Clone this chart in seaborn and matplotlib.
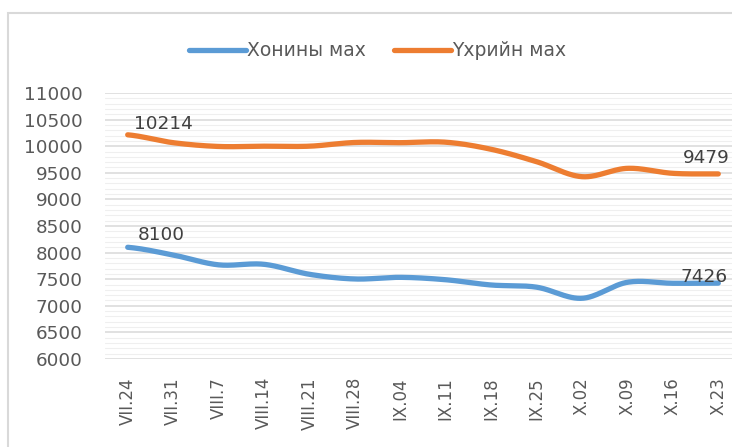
import numpy as np
import pandas as pd
import matplotlib
matplotlib.use("Agg")
import matplotlib.pyplot as plt
from matplotlib.patches import Rectangle
from matplotlib.lines import Line2D
from matplotlib.ticker import MultipleLocator
import seaborn as sns

categories = ["VII.24", "VII.31", "VIII.7", "VIII.14", "VIII.21", "VIII.28", "IX.04",
              "IX.11", "IX.18", "IX.25", "X.02", "X.09", "X.16", "X.23"]
sheep = [8100, 7955, 7770, 7780, 7592, 7504, 7535, 7490, 7391, 7350, 7141, 7442, 7423, 7426]
beef = [10214, 10066, 9995, 10000, 10000, 10070, 10066, 10075, 9942, 9709, 9427, 9584, 9490, 9479]
series_names = ["Хонины мах", "Үхрийн мах"]
colors = ["#5B9BD5", "#ED7D31"]
y_ticks = [6000, 6500, 7000, 7500, 8000, 8500, 9000, 9500, 10000, 10500, 11000]


def smooth(values, n=30):
    """Catmull-Rom curve through the points (like Excel's smoothed line)."""
    p = np.asarray(values, dtype=float)
    pts = np.concatenate([[p[0]], p, [p[-1]]])
    xs, ys = [], []
    for i in range(len(p) - 1):
        p0, p1, p2, p3 = pts[i], pts[i + 1], pts[i + 2], pts[i + 3]
        t = np.linspace(0, 1, n, endpoint=(i == len(p) - 2))
        y = 0.5 * ((2 * p1) + (-p0 + p2) * t + (2 * p0 - 5 * p1 + 4 * p2 - p3) * t ** 2
                   + (-p0 + 3 * p1 - 3 * p2 + p3) * t ** 3)
        xs.append(i + t)
        ys.append(y)
    return np.concatenate(xs), np.concatenate(ys)


frames = []
for name, vals in zip(series_names, [sheep, beef]):
    sx, sy = smooth(vals)
    frames.append(pd.DataFrame({"x": sx, "y": sy, "series": name}))
df = pd.concat(frames, ignore_index=True)

sns.set_theme(style="white")
plt.rcParams["font.family"] = ["DejaVu Sans"]

W, H = 732, 447
fig = plt.figure(figsize=(W / 100, H / 100), dpi=100)

# chart frame (cropped on right and bottom)
fig.patches.append(Rectangle((8 / W, -0.2), 1.2, 1.2 - 13 / H, transform=fig.transFigure,
                             fill=False, edgecolor="#D9D9D9", linewidth=1.5, zorder=0))

left, right, top, bottom = 105, 741, 93, 359
ax = fig.add_axes([left / W, 1 - bottom / H, (right - left) / W, (bottom - top) / H])

sns.lineplot(data=df, x="x", y="y", hue="series", palette=colors, linewidth=3.8,
             ax=ax, legend=False, sort=False, estimator=None)

ax.set_xlim(-0.5, len(categories) - 0.5)
ax.set_ylim(6000, 11000)
ax.set_yticks(y_ticks)
ax.yaxis.set_minor_locator(MultipleLocator(100))
ax.set_xticks(range(len(categories)))
ax.set_xticklabels(categories, rotation=90)
ax.grid(True, which="major", axis="y", color="#D9D9D9", linewidth=1.1)
ax.grid(True, which="minor", axis="y", color="#EFEFEF", linewidth=0.8)
ax.set_axisbelow(True)
for s in ax.spines.values():
    s.set_visible(False)
ax.tick_params(axis="y", which="both", length=0, pad=16, labelsize=13.2, labelcolor="#595959")
ax.tick_params(axis="x", length=0, pad=13, labelsize=12, labelcolor="#595959")
ax.set_xlabel("")
ax.set_ylabel("")

# data labels
lab_kw = dict(fontsize=13.3, color="#404040", ha="left", va="baseline")
ax.text(0.13, 10323, str(beef[0]), **lab_kw)
ax.text(0.22, 8237, str(sheep[0]), **lab_kw)
ax.text(12.23, 9684, str(beef[-1]), **lab_kw)
ax.text(12.16, 7447, str(sheep[-1]), **lab_kw)

# legend
handles = [Line2D([0], [0], color=c, linewidth=3.8, solid_capstyle="round") for c in colors]
leg = fig.legend(handles, series_names, loc="center", bbox_to_anchor=(378 / W, 1 - 51 / H),
                 ncol=2, frameon=False, fontsize=13.5, handlelength=3.0, handletextpad=0.1,
                 columnspacing=1.5)
for t in leg.get_texts():
    t.set_color("#595959")

fig.savefig("out.png", dpi=100)
